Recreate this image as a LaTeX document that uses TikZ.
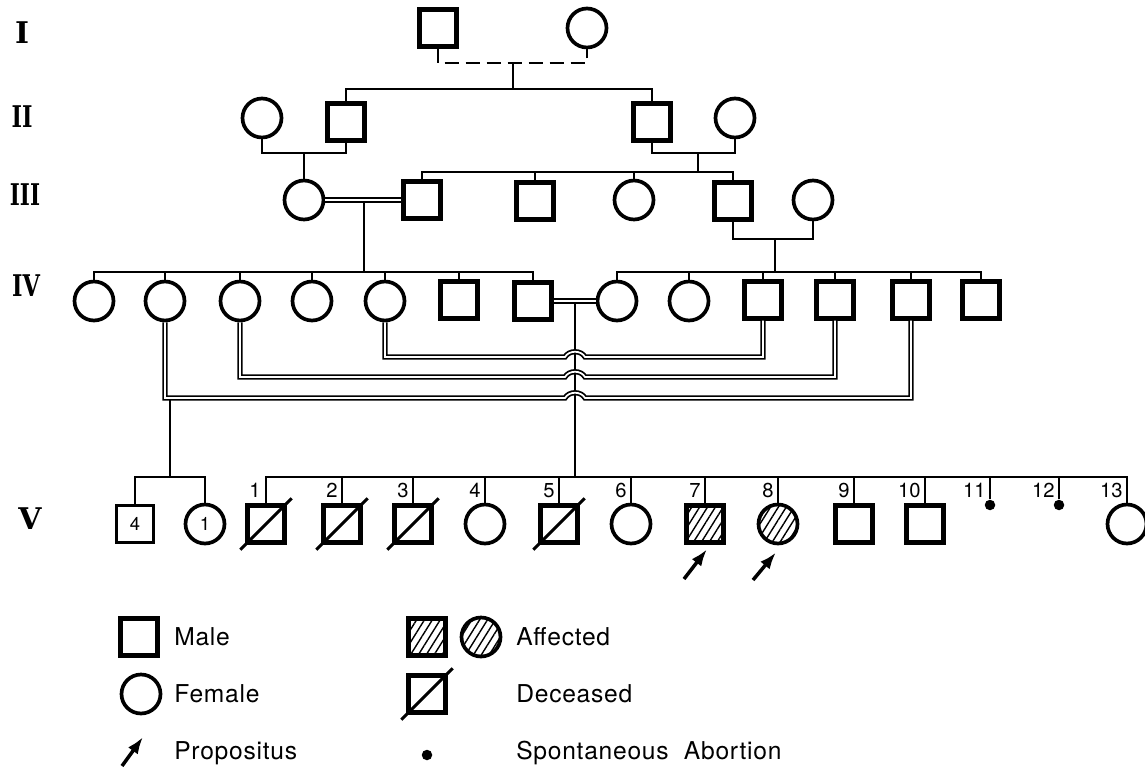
\documentclass[tikz,border=0pt]{standalone}
\usepackage{fontspec}
\setmainfont{TeX Gyre Heros}
\newfontfamily\genfont{DejaVu Serif}
\newfontfamily\keyfont{TeX Gyre Heros}[LetterSpace=3]
\usetikzlibrary{patterns.meta,arrows.meta}

\begin{document}
\begin{tikzpicture}[x=0.02cm, y=-0.02cm,
		male/.style = {draw, line width=2.5pt, minimum size=0.74cm, inner sep=0pt},
		female/.style = {draw, line width=2.1pt, circle, minimum size=0.78cm, inner sep=0pt},
		hatch/.style = {pattern={Lines[angle=58, distance=3.8pt, line width=0.8pt]}},
		conn/.style = {line width=1.1pt},
		dbl/.style = {double, double distance=1pt, line width=1pt},
		slash/.style = {line width=1.7pt},
		prop/.style = {-{Latex[length=0.34cm, width=0.24cm]}, line width=2pt},
		abort/.style = {circle, fill, inner sep=0pt, minimum size=0.21cm},
		gen/.style = {font=\genfont\bfseries\fontsize{17}{17}\selectfont},
		num/.style = {font=\fontsize{11.5}{11.5}\selectfont, inner sep=0pt, anchor=south east},
		key/.style = {font=\keyfont\fontsize{14}{16}\selectfont, anchor=west, inner sep=0pt}]
	\useasboundingbox (0,0) rectangle (1145,770);

	% generation labels
	\node[gen] (labelI) at (22,33) {I};
	\node[gen] (labelII) at (22,117) {\scalebox{0.75}[1]{II}};
	\node[gen] (labelIII) at (25,195) {\scalebox{0.72}[1]{III}};
	\node[gen] (labelIV) at (26,286) {\scalebox{0.75}[1]{IV}};
	\node[gen] (labelV) at (30,519) {V};

	% generation I
	\node[male] (i1) at (438,28) {};
	\node[female] (i2) at (587,28) {};
	\coordinate (mi) at (513,63);
	\coordinate (sibii) at (513,89);

	% generation II
	\node[female] (ii1) at (262,118) {};
	\node[male] (ii2) at (346,122) {};
	\node[male] (ii3) at (652,122) {};
	\node[female] (ii4) at (735,118) {};
	\coordinate (mii1) at (304,153);
	\coordinate (mii2) at (698,153);

	% generation III
	\node[female] (iii1) at (304,200) {};
	\node[male] (iii2) at (422,200) {};
	\node[male] (iii3) at (535,201) {};
	\node[female] (iii4) at (634,200) {};
	\node[male] (iii5) at (733,201) {};
	\node[female] (iii6) at (813,200) {};
	\coordinate (sibiii) at (698,172);
	\coordinate (miii1) at (364,200);
	\coordinate (miii2) at (775,239);

	% generation IV
	\node[female] (iv1) at (94,301) {};
	\node[female] (iv2) at (165,301) {};
	\node[female] (iv3) at (240,301) {};
	\node[female] (iv4) at (312,301) {};
	\node[female] (iv5) at (385,301) {};
	\node[male] (iv6) at (459,300) {};
	\node[male] (iv7) at (533,301) {};
	\node[female] (iv8) at (617,301) {};
	\node[female] (iv9) at (689,301) {};
	\node[male] (iv10) at (763,300) {};
	\node[male] (iv11) at (835,300) {};
	\node[male] (iv12) at (911,300) {};
	\node[male] (iv13) at (981,300) {};
	\coordinate (sibiv1) at (364,272);
	\coordinate (sibiv2) at (775,272);
	\coordinate (miv) at (575,301);
	\coordinate (mc) at (170,398);

	% generation V
	\node[male, line width=1.8pt, font=\fontsize{10.5}{10.5}\selectfont] (vsq) at (135,524) {4};
	\node[female, font=\fontsize{10.5}{10.5}\selectfont] (vci) at (205,524) {1};
	\node[male] (v1) at (266,524) {};
	\node[male] (v2) at (342,524) {};
	\node[male] (v3) at (413,524) {};
	\node[female] (v4) at (485,524) {};
	\node[male] (v5) at (559,524) {};
	\node[female] (v6) at (631,524) {};
	\node[male, hatch] (v7) at (705,524) {};
	\node[female, hatch] (v8) at (778,524) {};
	\node[male] (v9) at (854,524) {};
	\node[male] (v10) at (925,524) {};
	\node[abort] (v11) at (990,505) {};
	\node[abort] (v12) at (1059,505) {};
	\node[female] (v13) at (1127,524) {};
	\coordinate (sibv1) at (170,477);
	\coordinate (sibv2) at (575,477);

	\node[num] (n1) at (261,498) {1};
	\node[num] (n2) at (338,498) {2};
	\node[num] (n3) at (409,498) {3};
	\node[num] (n4) at (481,498) {4};
	\node[num] (n5) at (555,498) {5};
	\node[num] (n6) at (627,498) {6};
	\node[num] (n7) at (701,498) {7};
	\node[num] (n8) at (774,498) {8};
	\node[num] (n9) at (850,498) {9};
	\node[num] (n10) at (921,498) {10};
	\node[num] (n11) at (986,498) {11};
	\node[num] (n12) at (1055,498) {12};
	\node[num] (n13) at (1123,498) {13};

	% lines I -> II
	\draw[conn, dash pattern=on 0.28cm off 0.14cm] (i1.south) |- (mi) -| (i2.south);
	\draw[conn] (mi) -- (sibii);
	\draw[conn] (ii2.north) |- (sibii) -| (ii3.north);

	% lines II -> III
	\draw[conn] (ii1.south) |- (mii1) -| (ii2.south);
	\draw[conn] (mii1) -- (iii1.north);
	\draw[conn] (ii3.south) |- (mii2) -| (ii4.south);
	\draw[conn] (mii2) -- (sibiii);
	\draw[conn] (iii2.north) |- (sibiii) -| (iii5.north);
	\draw[conn] (iii3.north) -- (iii3.north |- sibiii);
	\draw[conn] (iii4.north) -- (iii4.north |- sibiii);

	% lines III -> IV
	\draw[conn] (miii1) -- (sibiv1);
	\draw[dbl] (iii1.east) -- (iii2.west);
	\draw[conn] (iii5.south) |- (miii2) -| (iii6.south);
	\draw[conn] (miii2) -- (sibiv2);
	\draw[conn] (iv1.north) |- (sibiv1) -| (iv7.north);
	\draw[conn] (iv2.north) -- (iv2.north |- sibiv1);
	\draw[conn] (iv3.north) -- (iv3.north |- sibiv1);
	\draw[conn] (iv4.north) -- (iv4.north |- sibiv1);
	\draw[conn] (iv5.north) -- (iv5.north |- sibiv1);
	\draw[conn] (iv6.north) -- (iv6.north |- sibiv1);
	\draw[conn] (iv8.north) |- (sibiv2) -| (iv13.north);
	\draw[conn] (iv9.north) -- (iv9.north |- sibiv2);
	\draw[conn] (iv10.north) -- (iv10.north |- sibiv2);
	\draw[conn] (iv11.north) -- (iv11.north |- sibiv2);
	\draw[conn] (iv12.north) -- (iv12.north |- sibiv2);

	% lines IV -> V
	\draw[conn] (miv) -- (sibv2);
	\draw[conn] (mc) -- (sibv1);
	\draw[dbl] (iv7.east) -- (iv8.west);
	\draw[dbl] (iv5.south) |- (565,357) .. controls (569,350) and (581,350) .. (585,357) -| (iv10.south);
	\draw[dbl] (iv3.south) |- (565,377) .. controls (569,370) and (581,370) .. (585,377) -| (iv11.south);
	\draw[dbl] (iv2.south) |- (565,398) .. controls (569,391) and (581,391) .. (585,398) -| (iv12.south);
	\draw[conn] (vsq.north) |- (sibv1) -| (vci.north);
	\draw[conn] (v1.north) |- (sibv2) -| (v13.north);
	\draw[conn] (v2.north) -- (v2.north |- sibv2);
	\draw[conn] (v3.north) -- (v3.north |- sibv2);
	\draw[conn] (v4.north) -- (v4.north |- sibv2);
	\draw[conn] (v5.north) -- (v5.north |- sibv2);
	\draw[conn] (v6.north) -- (v6.north |- sibv2);
	\draw[conn] (v7.north) -- (v7.north |- sibv2);
	\draw[conn] (v8.north) -- (v8.north |- sibv2);
	\draw[conn] (v9.north) -- (v9.north |- sibv2);
	\draw[conn] (v10.north) -- (v10.north |- sibv2);
	\draw[conn] (v11.north) -- (v11.north |- sibv2);
	\draw[conn] (v12.north) -- (v12.north |- sibv2);

	% deceased
	\draw[slash] ([shift={(-5,5)}]v1.south west) -- ([shift={(5,-5)}]v1.north east);
	\draw[slash] ([shift={(-5,5)}]v2.south west) -- ([shift={(5,-5)}]v2.north east);
	\draw[slash] ([shift={(-5,5)}]v3.south west) -- ([shift={(5,-5)}]v3.north east);
	\draw[slash] ([shift={(-5,5)}]v5.south west) -- ([shift={(5,-5)}]v5.north east);

	% propositi
	\coordinate (p7) at (684,579);
	\coordinate (p8) at (753,580);
	\draw[prop] (p7) -- ([shift={(2,6)}]v7.south);
	\draw[prop] (p8) -- ([shift={(-2,7)}]v8.south);

	% legend
	\node[male] (kmale) at (139,637) {};
	\node[key] (tmale) at (174,637) {Male};
	\node[female] (kfemale) at (141,694) {};
	\node[key] (tfemale) at (174,694) {Female};
	\coordinate (karrow) at (122,766);
	\coordinate (karrowtip) at (143,737);
	\draw[prop] (karrow) -- (karrowtip);
	\node[key] (tprop) at (174,753) {Propositus};
	\node[male, hatch] (kaffm) at (427,637) {};
	\node[female, hatch] (kafff) at (481,637) {};
	\node[key] (taff) at (516,637) {Affected};
	\node[male] (kdead) at (427,694) {};
	\draw[slash] ([shift={(-5,5)}]kdead.south west) -- ([shift={(5,-5)}]kdead.north east);
	\node[key] (tdead) at (516,694) {Deceased};
	\node[abort] (kabort) at (427,755) {};
	\node[key] (tabort) at (516,753) {Spontaneous\ \ Abortion};
\end{tikzpicture}
\end{document}
